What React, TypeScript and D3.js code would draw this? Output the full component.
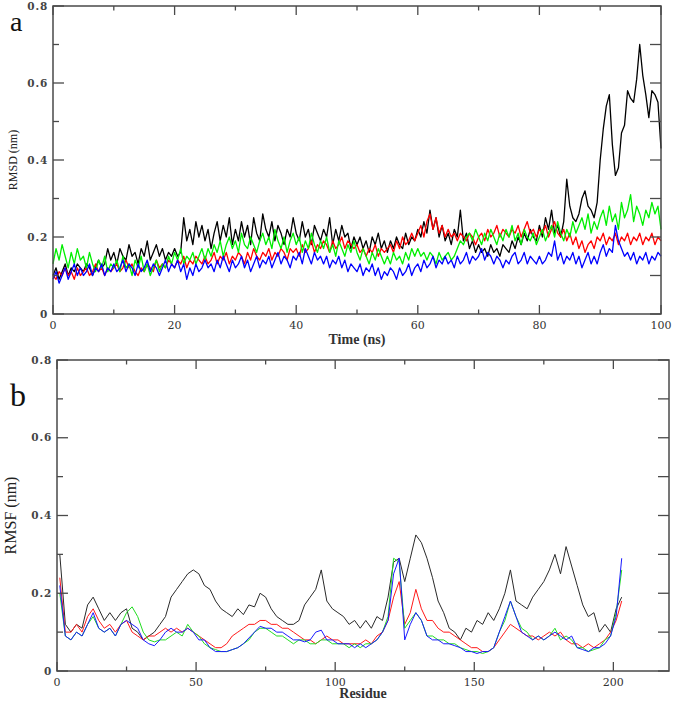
import React from "react";
import * as d3 from "d3";

// ---- RMSD time series (ns, every 0.5 ns from 0 to 100) ----
const rmsdBlack = [
  0.10,0.12,0.09,0.11,0.13,0.10,0.12,0.11,0.13,0.12,
  0.11,0.13,0.12,0.10,0.12,0.14,0.12,0.13,0.17,0.14,
  0.16,0.13,0.17,0.15,0.14,0.18,0.15,0.16,0.13,0.17,
  0.15,0.19,0.14,0.16,0.18,0.15,0.17,0.14,0.16,0.15,
  0.17,0.15,0.16,0.25,0.19,0.22,0.18,0.24,0.20,0.23,
  0.19,0.22,0.17,0.21,0.24,0.19,0.23,0.20,0.25,0.18,
  0.22,0.19,0.24,0.20,0.23,0.18,0.25,0.21,0.19,0.26,
  0.22,0.20,0.24,0.19,0.23,0.21,0.18,0.22,0.20,0.25,
  0.21,0.19,0.24,0.20,0.22,0.18,0.23,0.21,0.19,0.22,
  0.20,0.25,0.18,0.22,0.19,0.23,0.20,0.21,0.17,0.20,
  0.18,0.20,0.17,0.19,0.16,0.20,0.18,0.21,0.17,0.19,
  0.16,0.19,0.17,0.20,0.18,0.17,0.21,0.18,0.20,0.19,
  0.22,0.20,0.24,0.21,0.27,0.22,0.25,0.20,0.23,0.19,
  0.21,0.18,0.22,0.20,0.27,0.19,0.21,0.17,0.19,0.16,
  0.18,0.16,0.17,0.15,0.18,0.16,0.17,0.15,0.18,0.17,
  0.16,0.19,0.17,0.20,0.18,0.21,0.19,0.22,0.20,0.19,
  0.23,0.20,0.25,0.22,0.27,0.21,0.23,0.20,0.24,0.35,
  0.28,0.25,0.24,0.26,0.30,0.32,0.28,0.27,0.25,0.29,
  0.40,0.48,0.54,0.57,0.44,0.36,0.38,0.47,0.49,0.58,
  0.56,0.55,0.61,0.70,0.62,0.57,0.51,0.58,0.57,0.55,
  0.43,
];
const rmsdRed = [
  0.10,0.09,0.11,0.10,0.12,0.10,0.11,0.09,0.12,0.10,
  0.11,0.12,0.10,0.11,0.13,0.11,0.12,0.10,0.12,0.11,
  0.12,0.13,0.11,0.12,0.14,0.12,0.13,0.11,0.10,0.12,
  0.11,0.13,0.12,0.11,0.14,0.12,0.13,0.12,0.14,0.13,
  0.12,0.14,0.13,0.15,0.12,0.14,0.13,0.15,0.14,0.13,
  0.15,0.13,0.14,0.16,0.13,0.15,0.14,0.16,0.13,0.15,
  0.14,0.16,0.15,0.13,0.16,0.14,0.17,0.15,0.14,0.16,
  0.15,0.17,0.14,0.16,0.15,0.17,0.16,0.14,0.17,0.16,
  0.17,0.15,0.18,0.16,0.17,0.19,0.16,0.18,0.17,0.19,
  0.18,0.16,0.19,0.17,0.18,0.20,0.17,0.19,0.18,0.17,
  0.18,0.16,0.17,0.15,0.17,0.16,0.18,0.15,0.17,0.16,
  0.17,0.18,0.16,0.19,0.17,0.20,0.18,0.19,0.21,0.19,
  0.21,0.23,0.20,0.24,0.26,0.22,0.25,0.21,0.23,0.20,
  0.22,0.20,0.21,0.19,0.21,0.20,0.19,0.21,0.20,0.18,
  0.20,0.21,0.19,0.22,0.20,0.21,0.23,0.20,0.22,0.21,
  0.20,0.22,0.21,0.23,0.20,0.22,0.24,0.21,0.22,0.20,
  0.22,0.21,0.23,0.20,0.22,0.24,0.21,0.20,0.22,0.19,
  0.21,0.18,0.20,0.17,0.19,0.16,0.18,0.19,0.17,0.20,
  0.19,0.21,0.18,0.20,0.19,0.21,0.18,0.20,0.19,0.21,
  0.18,0.20,0.19,0.21,0.18,0.20,0.19,0.21,0.18,0.20,
  0.19,
];
const rmsdGreen = [
  0.13,0.17,0.14,0.18,0.15,0.12,0.16,0.13,0.17,0.14,
  0.15,0.12,0.16,0.13,0.11,0.14,0.12,0.15,0.11,0.13,
  0.12,0.14,0.11,0.15,0.12,0.13,0.10,0.14,0.12,0.15,
  0.11,0.13,0.10,0.12,0.14,0.11,0.13,0.12,0.15,0.13,
  0.16,0.14,0.17,0.13,0.15,0.14,0.16,0.13,0.15,0.17,
  0.14,0.17,0.15,0.18,0.16,0.19,0.15,0.18,0.20,0.17,
  0.19,0.16,0.21,0.18,0.17,0.20,0.18,0.16,0.19,0.21,
  0.18,0.20,0.17,0.22,0.19,0.17,0.20,0.16,0.19,0.21,
  0.18,0.20,0.16,0.19,0.17,0.21,0.18,0.16,0.19,0.17,
  0.20,0.16,0.18,0.15,0.19,0.17,0.15,0.18,0.16,0.19,
  0.16,0.14,0.17,0.15,0.13,0.16,0.14,0.17,0.15,0.13,
  0.15,0.13,0.16,0.14,0.15,0.13,0.16,0.14,0.17,0.15,
  0.17,0.15,0.16,0.14,0.16,0.15,0.13,0.16,0.14,0.15,
  0.16,0.14,0.15,0.17,0.19,0.18,0.20,0.21,0.19,0.22,
  0.20,0.18,0.21,0.19,0.22,0.20,0.18,0.21,0.19,0.22,
  0.20,0.23,0.19,0.21,0.18,0.22,0.20,0.19,0.21,0.18,
  0.20,0.22,0.19,0.21,0.23,0.20,0.24,0.21,0.19,0.22,
  0.20,0.24,0.21,0.23,0.25,0.22,0.26,0.21,0.24,0.22,
  0.25,0.27,0.23,0.28,0.24,0.26,0.22,0.29,0.25,0.27,
  0.31,0.24,0.28,0.26,0.23,0.27,0.25,0.29,0.26,0.28,
  0.22,
];
const rmsdBlue = [
  0.09,0.11,0.08,0.10,0.12,0.09,0.11,0.13,0.10,0.12,
  0.10,0.11,0.13,0.10,0.12,0.11,0.13,0.10,0.12,0.11,
  0.13,0.11,0.12,0.14,0.11,0.13,0.12,0.10,0.13,0.11,
  0.12,0.14,0.11,0.13,0.12,0.10,0.12,0.14,0.11,0.13,
  0.12,0.14,0.11,0.13,0.09,0.12,0.10,0.13,0.11,0.12,
  0.14,0.12,0.13,0.11,0.14,0.12,0.15,0.13,0.11,0.14,
  0.12,0.13,0.15,0.12,0.14,0.11,0.13,0.15,0.12,0.14,
  0.13,0.15,0.12,0.14,0.16,0.13,0.15,0.14,0.12,0.15,
  0.14,0.16,0.13,0.17,0.15,0.13,0.16,0.14,0.15,0.13,
  0.15,0.12,0.14,0.13,0.15,0.12,0.14,0.11,0.13,0.12,
  0.11,0.13,0.10,0.12,0.11,0.13,0.10,0.12,0.09,0.11,
  0.10,0.12,0.11,0.09,0.12,0.10,0.11,0.13,0.10,0.12,
  0.13,0.11,0.14,0.12,0.13,0.15,0.12,0.14,0.13,0.15,
  0.13,0.14,0.12,0.15,0.13,0.14,0.16,0.13,0.15,0.14,
  0.15,0.17,0.14,0.16,0.15,0.13,0.15,0.14,0.12,0.14,
  0.13,0.15,0.16,0.13,0.14,0.16,0.13,0.15,0.14,0.13,
  0.15,0.13,0.14,0.16,0.15,0.19,0.14,0.16,0.13,0.15,
  0.14,0.16,0.13,0.15,0.12,0.14,0.16,0.13,0.15,0.13,
  0.16,0.18,0.15,0.17,0.16,0.23,0.19,0.17,0.15,0.16,
  0.14,0.16,0.13,0.15,0.14,0.16,0.13,0.15,0.14,0.16,
  0.15,
];

// ---- RMSF per residue (residues 1, 3, 5 … 203) ----
const rmsfBlack = [
  0.30,0.12,0.10,0.12,0.11,0.17,0.19,0.16,0.13,0.15,
  0.13,0.15,0.16,0.11,0.10,0.08,0.09,0.10,0.12,0.14,
  0.19,0.21,0.23,0.25,0.26,0.25,0.22,0.21,0.18,0.16,
  0.15,0.14,0.16,0.145,0.17,0.165,0.20,0.19,0.16,0.14,
  0.13,0.12,0.12,0.13,0.17,0.19,0.21,0.26,0.18,0.16,
  0.15,0.14,0.12,0.13,0.11,0.13,0.11,0.14,0.13,0.19,
  0.28,0.29,0.23,0.29,0.35,0.33,0.29,0.24,0.18,0.15,
  0.11,0.10,0.08,0.11,0.10,0.13,0.12,0.15,0.13,0.16,
  0.20,0.26,0.18,0.17,0.16,0.19,0.21,0.23,0.26,0.30,
  0.25,0.32,0.27,0.22,0.17,0.14,0.15,0.10,0.12,0.10,
  0.16,0.19,
];
const rmsfRed = [
  0.24,0.10,0.10,0.12,0.10,0.14,0.16,0.13,0.11,0.12,
  0.10,0.12,0.13,0.10,0.09,0.08,0.09,0.09,0.10,0.11,
  0.10,0.11,0.10,0.11,0.10,0.09,0.08,0.07,0.06,0.06,
  0.07,0.09,0.10,0.11,0.12,0.12,0.13,0.13,0.12,0.12,
  0.11,0.11,0.10,0.09,0.08,0.08,0.07,0.08,0.09,0.08,
  0.08,0.07,0.07,0.07,0.07,0.08,0.07,0.09,0.10,0.13,
  0.19,0.23,0.12,0.15,0.21,0.16,0.13,0.13,0.11,0.10,
  0.10,0.09,0.08,0.07,0.06,0.06,0.05,0.05,0.06,0.08,
  0.10,0.12,0.11,0.10,0.09,0.09,0.08,0.09,0.10,0.09,
  0.10,0.08,0.07,0.07,0.06,0.07,0.06,0.07,0.08,0.10,
  0.13,0.18,
];
const rmsfGreen = [
  0.20,0.09,0.08,0.10,0.09,0.12,0.14,0.11,0.10,0.11,
  0.09,0.12,0.15,0.165,0.14,0.10,0.08,0.075,0.08,0.08,
  0.09,0.10,0.09,0.12,0.10,0.09,0.07,0.06,0.055,0.05,
  0.05,0.055,0.06,0.07,0.08,0.10,0.11,0.11,0.10,0.09,
  0.09,0.08,0.07,0.08,0.08,0.07,0.07,0.08,0.08,0.07,
  0.07,0.07,0.06,0.07,0.06,0.07,0.07,0.08,0.10,0.14,
  0.29,0.28,0.11,0.13,0.15,0.13,0.09,0.09,0.08,0.08,
  0.07,0.07,0.06,0.055,0.05,0.05,0.045,0.05,0.06,0.10,
  0.13,0.18,0.14,0.11,0.10,0.08,0.09,0.08,0.09,0.11,
  0.08,0.09,0.08,0.06,0.06,0.05,0.055,0.06,0.08,0.09,
  0.15,0.26,
];
const rmsfBlue = [
  0.22,0.09,0.08,0.10,0.09,0.12,0.15,0.11,0.10,0.11,
  0.09,0.12,0.13,0.12,0.11,0.08,0.07,0.065,0.08,0.10,
  0.11,0.10,0.10,0.11,0.10,0.08,0.08,0.06,0.05,0.05,
  0.05,0.055,0.06,0.07,0.085,0.10,0.115,0.11,0.11,0.10,
  0.10,0.09,0.08,0.08,0.075,0.08,0.10,0.105,0.08,0.08,
  0.07,0.07,0.07,0.06,0.07,0.06,0.07,0.08,0.10,0.13,
  0.25,0.29,0.08,0.12,0.15,0.13,0.09,0.08,0.08,0.07,
  0.07,0.065,0.06,0.05,0.05,0.045,0.05,0.05,0.06,0.10,
  0.14,0.18,0.14,0.10,0.09,0.08,0.09,0.08,0.09,0.10,
  0.09,0.08,0.09,0.06,0.055,0.05,0.06,0.06,0.07,0.09,
  0.14,0.29,
];

const timeNs = rmsdBlack.map((_, i) => i * 0.5);
const residues = rmsfBlack.map((_, i) => 1 + i * 2);

const yTicksMajor = [0, 0.2, 0.4, 0.6, 0.8];
const yTicksMinor = [0.1, 0.3, 0.5, 0.7];
const timeTicksMajor = [0, 20, 40, 60, 80, 100];
const timeTicksMinor = [10, 30, 50, 70, 90];
const resTicksMajor = [0, 50, 100, 150, 200];
const resTicksMinor = [25, 75, 125, 175];

const AXIS = "#4a4a4a";
const yFmt = (v: number) => (v === 0 ? "0" : v.toFixed(1));

type PanelProps = {
  left: number;
  right: number;
  top: number;
  bottom: number;
  xDomain: [number, number];
  xs: number[];
  series: number[][];
  colors: string[];
  xMajor: number[];
  xMinor: number[];
  xTitle: string;
  yTitle: string;
  yTitleSize: number;
  yTitleX: number;
  letter: string;
  letterSize: number;
  letterY: number;
  lineWidth: number;
  xTitleY: number;
};

function Panel(p: PanelProps) {
  const x = d3.scaleLinear().domain(p.xDomain).range([p.left, p.right]);
  const y = d3.scaleLinear().domain([0, 0.8]).range([p.bottom, p.top]);
  const line = d3
    .line<number>()
    .x((_, i) => x(p.xs[i]))
    .y((d) => y(d));
  const midY = (p.top + p.bottom) / 2;
  const xMaj = 9, xMin = 4.5, yMaj = 11, yMin = 6;
  return (
    <g>
      {p.series.map((s, k) => (
        <path
          key={k}
          d={line(s) || ""}
          fill="none"
          stroke={p.colors[k]}
          strokeWidth={p.lineWidth}
          strokeLinejoin="round"
        />
      ))}
      {/* frame */}
      <rect
        x={p.left}
        y={p.top}
        width={p.right - p.left}
        height={p.bottom - p.top}
        fill="none"
        stroke={AXIS}
        strokeWidth={1.5}
      />
      {/* x ticks, bottom and top, pointing inward */}
      {p.xMajor.map((t) => (
        <g key={"xM" + t}>
          <line x1={x(t)} x2={x(t)} y1={p.bottom} y2={p.bottom - xMaj} stroke={AXIS} strokeWidth={1.3} />
          <line x1={x(t)} x2={x(t)} y1={p.top} y2={p.top + xMaj} stroke={AXIS} strokeWidth={1.3} />
          <text
            x={x(t)}
            y={p.bottom + 15}
            textAnchor="middle"
            fontFamily="DejaVu Serif"
            fontSize={11}
            fill="#333"
          >
            {t}
          </text>
        </g>
      ))}
      {p.xMinor.map((t) => (
        <g key={"xm" + t}>
          <line x1={x(t)} x2={x(t)} y1={p.bottom} y2={p.bottom - xMin} stroke={AXIS} strokeWidth={1.3} />
          <line x1={x(t)} x2={x(t)} y1={p.top} y2={p.top + xMin} stroke={AXIS} strokeWidth={1.3} />
        </g>
      ))}
      {/* y ticks, left and right, pointing inward */}
      {yTicksMajor.map((t) => (
        <g key={"yM" + t}>
          <line x1={p.left} x2={p.left + yMaj} y1={y(t)} y2={y(t)} stroke={AXIS} strokeWidth={1.3} />
          <line x1={p.right} x2={p.right - yMaj} y1={y(t)} y2={y(t)} stroke={AXIS} strokeWidth={1.3} />
          <text
            x={p.left - 5}
            y={y(t)}
            dy="0.35em"
            textAnchor="end"
            fontFamily="DejaVu Serif"
            fontWeight="bold"
            fontSize={10.5}
            letterSpacing={0.8}
            fill="#444"
          >
            {yFmt(t)}
          </text>
        </g>
      ))}
      {yTicksMinor.map((t) => (
        <g key={"ym" + t}>
          <line x1={p.left} x2={p.left + yMin} y1={y(t)} y2={y(t)} stroke={AXIS} strokeWidth={1.3} />
          <line x1={p.right} x2={p.right - yMaj} y1={y(t)} y2={y(t)} stroke={AXIS} strokeWidth={1.3} />
        </g>
      ))}
      <text
        x={(p.left + p.right) / 2}
        y={p.xTitleY}
        textAnchor="middle"
        fontFamily="Liberation Serif"
        fontSize={14}
        fontWeight="bold"
        fill="#333"
      >
        {p.xTitle}
      </text>
      <text
        transform={`translate(${p.yTitleX},${midY}) rotate(-90)`}
        textAnchor="middle"
        fontFamily="Liberation Serif"
        fontSize={p.yTitleSize}
        fill="#222"
      >
        {p.yTitle}
      </text>
      <text
        x={10}
        y={p.letterY}
        fontFamily="Liberation Serif"
        fontSize={p.letterSize}
        fill="#111"
      >
        {p.letter}
      </text>
    </g>
  );
}

export default function App() {
  return (
    <svg
      width={676}
      height={701}
      viewBox="0 0 676 701"
      style={{ position: "absolute", left: 0, top: 0, background: "#fff" }}
    >
      <rect width={676} height={701} fill="#fff" />
      <Panel
        left={53}
        right={661}
        top={6}
        bottom={314}
        xDomain={[0, 100]}
        xs={timeNs}
        series={[rmsdBlack, rmsdRed, rmsdGreen, rmsdBlue]}
        colors={["#000000", "#ff0000", "#00ee00", "#0000ff"]}
        xMajor={timeTicksMajor}
        xMinor={timeTicksMinor}
        xTitle="Time (ns)"
        xTitleY={344}
        yTitle="RMSD (nm)"
        yTitleSize={12}
        yTitleX={17}
        letter="a"
        letterSize={28}
        letterY={31}
        lineWidth={1.3}
      />
      <Panel
        left={57}
        right={669}
        top={360}
        bottom={671}
        xDomain={[0, 220]}
        xs={residues}
        series={[rmsfBlack, rmsfRed, rmsfGreen, rmsfBlue]}
        colors={["#2a2a2a", "#ff1a1a", "#22dd22", "#1a1aff"]}
        xMajor={resTicksMajor}
        xMinor={resTicksMinor}
        xTitle="Residue"
        xTitleY={698}
        yTitle="RMSF (nm)"
        yTitleSize={16}
        yTitleX={16}
        letter="b"
        letterSize={32}
        letterY={406}
        lineWidth={1}
      />
    </svg>
  );
}
